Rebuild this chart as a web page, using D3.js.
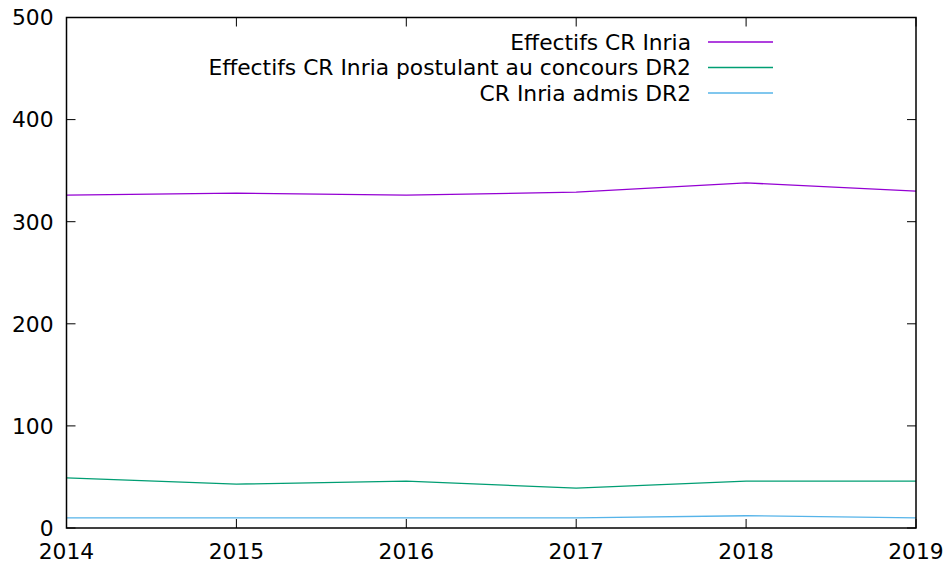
<!DOCTYPE html>
<html>
<head>
<meta charset="utf-8">
<script src="https://cdn.jsdelivr.net/npm/d3@7"></script>
<style>
  body { margin: 0; background: #fff; }
  svg text { font-family: "DejaVu Sans", sans-serif; }
</style>
</head>
<body>
<div id="chart"></div>
<script>
var years = [2014, 2015, 2016, 2017, 2018, 2019];
var effectifs = [326, 328, 326, 329, 338, 330];
var postulants = [49, 43, 46, 39, 46, 46];
var admis = [10, 10, 10, 10, 12, 10];
var yTicks = [0, 100, 200, 300, 400, 500];

var seriesNames = [
    'Effectifs CR Inria',
    'Effectifs CR Inria postulant au concours DR2',
    'CR Inria admis DR2'
];
var seriesColors = [ '#9400d3', '#009e73', '#56b4e9' ];
var seriesValues = [ effectifs, postulants, admis ];

var width = 946,
    height = 567,
    margin = { top: 17.5, right: 30, bottom: 39, left: 66.5 };

var fontSize = '21.8px';

var svg = d3.select('#chart').append('svg')
    .attr('width', width)
    .attr('height', height);

var x = d3.scaleLinear()
    .domain([ 2014, 2019 ])
    .range([ margin.left, width - margin.right ]);

var y = d3.scaleLinear()
    .domain([ 0, 500 ])
    .range([ height - margin.bottom, margin.top ]);

var tickLen = 9;

// ticks, mirrored on all sides
var ticks = svg.append('g')
    .attr('stroke', '#000')
    .attr('stroke-width', 1);

yTicks.forEach( function ( t ) {
    ticks.append('line')
        .attr('x1', x(2014)).attr('x2', x(2014) + tickLen)
        .attr('y1', y(t)).attr('y2', y(t));
    ticks.append('line')
        .attr('x1', x(2019)).attr('x2', x(2019) - tickLen)
        .attr('y1', y(t)).attr('y2', y(t));
});

years.forEach( function ( t ) {
    ticks.append('line')
        .attr('x1', x(t)).attr('x2', x(t))
        .attr('y1', y(0)).attr('y2', y(0) - tickLen);
    ticks.append('line')
        .attr('x1', x(t)).attr('x2', x(t))
        .attr('y1', y(500)).attr('y2', y(500) + tickLen);
});

// tick labels
svg.append('g').selectAll('text')
    .data( yTicks )
    .enter().append('text')
    .attr('x', x(2014) - 13)
    .attr('y', function ( d ) { return y(d); })
    .attr('dy', '0.36em')
    .attr('text-anchor', 'end')
    .style('font-size', fontSize)
    .text( function ( d ) { return d; });

svg.append('g').selectAll('text')
    .data( years )
    .enter().append('text')
    .attr('x', function ( d ) { return x(d); })
    .attr('y', y(0) + 31)
    .attr('text-anchor', 'middle')
    .style('font-size', fontSize)
    .text( function ( d ) { return d; });

// series
var line = d3.line()
    .x( function ( d, i ) { return x( years[i] ); })
    .y( function ( d ) { return y(d); });

seriesValues.forEach( function ( vals, i ) {
    svg.append('path')
        .datum( vals )
        .attr('fill', 'none')
        .attr('stroke', seriesColors[i])
        .attr('stroke-width', 1.3)
        .attr('d', line);
});

// legend
var legend = svg.append('g');

seriesNames.forEach( function ( name, i ) {
    var ly = 42 + i * 25.5;
    legend.append('text')
        .attr('x', 691)
        .attr('y', ly)
        .attr('dy', '0.36em')
        .attr('text-anchor', 'end')
        .style('font-size', fontSize)
        .text( name );
    legend.append('line')
        .attr('x1', 708).attr('x2', 773)
        .attr('y1', ly).attr('y2', ly)
        .attr('stroke', seriesColors[i])
        .attr('stroke-width', 1.3);
});

// frame
svg.append('rect')
    .attr('x', x(2014))
    .attr('y', y(500))
    .attr('width', x(2019) - x(2014))
    .attr('height', y(0) - y(500))
    .attr('fill', 'none')
    .attr('stroke', '#000')
    .attr('stroke-width', 1.5);
</script>
</body>
</html>
